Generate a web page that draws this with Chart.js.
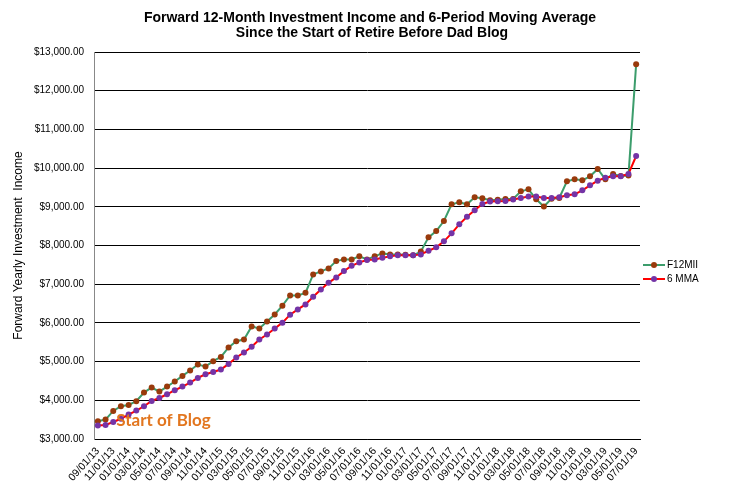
<!DOCTYPE html>
<html>
<head>
<meta charset="utf-8">
<script src="https://cdn.jsdelivr.net/npm/chart.js@4"></script>
<style>
  html, body { margin: 0; padding: 0; background: #fff; }
</style>
</head>
<body>
<canvas id="chart" width="729" height="487"></canvas>
<script>
// monthly data points, one per month since the blog started
const months = [
  '09/01/13', '10/01/13', '11/01/13', '12/01/13',
  '01/01/14', '02/01/14', '03/01/14', '04/01/14', '05/01/14', '06/01/14',
  '07/01/14', '08/01/14', '09/01/14', '10/01/14', '11/01/14', '12/01/14',
  '01/01/15', '02/01/15', '03/01/15', '04/01/15', '05/01/15', '06/01/15',
  '07/01/15', '08/01/15', '09/01/15', '10/01/15', '11/01/15', '12/01/15',
  '01/01/16', '02/01/16', '03/01/16', '04/01/16', '05/01/16', '06/01/16',
  '07/01/16', '08/01/16', '09/01/16', '10/01/16', '11/01/16', '12/01/16',
  '01/01/17', '02/01/17', '03/01/17', '04/01/17', '05/01/17', '06/01/17',
  '07/01/17', '08/01/17', '09/01/17', '10/01/17', '11/01/17', '12/01/17',
  '01/01/18', '02/01/18', '03/01/18', '04/01/18', '05/01/18', '06/01/18',
  '07/01/18', '08/01/18', '09/01/18', '10/01/18', '11/01/18', '12/01/18',
  '01/01/19', '02/01/19', '03/01/19', '04/01/19', '05/01/19', '06/01/19',
  '07/01/19'
];

// Forward 12-month investment income
const f12mii = [
  3458, 3502, 3725, 3846, 3880, 3975, 4200, 4330, 4226, 4355,
  4485, 4630, 4770, 4925, 4873, 5010, 5121, 5365, 5527, 5571,
  5908, 5856, 6037, 6218, 6446, 6710, 6710, 6777, 7253, 7331,
  7408, 7597, 7641, 7641, 7719, 7641, 7719, 7796, 7770, 7770,
  7760, 7745, 7843, 8210, 8373, 8632, 9064, 9116, 9064, 9245,
  9219, 9170, 9185, 9201, 9201, 9400, 9452, 9193, 9007, 9210,
  9227, 9659, 9711, 9685, 9788, 9977, 9711, 9848, 9796, 9809,
  12686
];

// 6-period moving average
const mma6 = [
  3347, 3362, 3440, 3523, 3631, 3735, 3846, 3983, 4060, 4156,
  4260, 4355, 4459, 4578, 4673, 4733, 4795, 4940, 5106, 5235,
  5385, 5571, 5701, 5856, 6006, 6213, 6348, 6477, 6674, 6865,
  7036, 7175, 7338, 7476, 7563, 7623, 7641, 7682, 7719, 7745,
  7745, 7745, 7770, 7864, 7952, 8107, 8314, 8547, 8743, 8909,
  9072, 9136, 9144, 9152, 9188, 9230, 9266, 9266, 9230, 9230,
  9248, 9297, 9323, 9426, 9555, 9675, 9752, 9788, 9788, 9848,
  10313
];

const titleLines = [
  'Forward 12-Month Investment Income and 6-Period Moving Average',
  'Since the Start of Retire Before Dad Blog'
];
const seriesNames = ['F12MII', '6 MMA'];
const blogNote = { text: 'Start of Blog', index: 2.4, value: 3330 };

const FONT = '"Liberation Sans", Arial, sans-serif';

// title, legend and the "Start of Blog" note
const extras = {
  id: 'extras',
  afterDatasetsDraw(chart) {
    const ctx = chart.ctx;
    const x = chart.scales.x.getPixelForValue(blogNote.index);
    const y = chart.scales.y.getPixelForValue(blogNote.value);
    ctx.save();
    ctx.font = 'bold 17px Lato, "Open Sans", sans-serif';
    ctx.fillStyle = '#E2761F';
    ctx.textAlign = 'left';
    ctx.textBaseline = 'alphabetic';
    ctx.fillText(blogNote.text, x, y);
    ctx.restore();
  },
  afterDraw(chart) {
    const ctx = chart.ctx;
    ctx.save();
    ctx.fillStyle = '#000';
    ctx.textAlign = 'center';
    ctx.textBaseline = 'alphabetic';
    ctx.font = 'bold 14px ' + FONT;
    ctx.fillText(titleLines[0], 370, 22);
    ctx.fillText(titleLines[1], 372, 37);

    // legend
    const items = chart.data.datasets.slice().sort((a, b) => b.order - a.order);
    items.forEach((ds, i) => {
      const ly = 265 + i * 14;
      ctx.strokeStyle = ds.borderColor;
      ctx.lineWidth = 2;
      ctx.beginPath();
      ctx.moveTo(643, ly);
      ctx.lineTo(665, ly);
      ctx.stroke();
      ctx.fillStyle = ds.pointBackgroundColor;
      ctx.beginPath();
      ctx.arc(654, ly, 3, 0, Math.PI * 2);
      ctx.fill();
      ctx.fillStyle = '#000';
      ctx.font = '10px ' + FONT;
      ctx.textAlign = 'left';
      ctx.textBaseline = 'middle';
      ctx.fillText(ds.label, 667, ly);
    });
    ctx.restore();
  }
};

new Chart(document.getElementById('chart'), {
  type: 'line',
  data: {
    labels: months,
    datasets: [
      {
        label: seriesNames[0],
        data: f12mii,
        order: 1,
        borderColor: '#3C9D6C',
        borderWidth: 2,
        pointBackgroundColor: '#993A0C',
        pointBorderColor: '#993A0C',
        pointBorderWidth: 0,
        pointRadius: 3,
        tension: 0
      },
      {
        label: seriesNames[1],
        data: mma6,
        order: 0,
        borderColor: '#FF0000',
        borderWidth: 2,
        pointBackgroundColor: '#7434A6',
        pointBorderColor: '#7434A6',
        pointBorderWidth: 0,
        pointRadius: 3,
        tension: 0
      }
    ]
  },
  options: {
    responsive: false,
    animation: false,
    devicePixelRatio: 1,
    layout: { padding: { left: 0, top: 52, right: 89, bottom: 0 } },
    plugins: {
      legend: { display: false },
      tooltip: { enabled: false }
    },
    scales: {
      x: {
        offset: true,
        grid: { display: false, drawTicks: false },
        border: { display: true, color: '#000', width: 1 },
        ticks: {
          autoSkip: false,
          minRotation: 48,
          maxRotation: 48,
          padding: 6,
          color: '#000',
          font: { family: FONT, size: 10.5 },
          callback: function (val, idx) {
            return idx % 2 === 0 ? this.getLabelForValue(val) : '';
          }
        },
        afterFit: s => { s.height = 48; }
      },
      y: {
        min: 3000,
        max: 13000,
        grid: { color: '#000', lineWidth: 1, drawTicks: false },
        border: { display: true, color: '#888', width: 1 },
        ticks: {
          stepSize: 1000,
          padding: 10,
          color: '#000',
          font: { family: FONT, size: 10 },
          callback: v => '$' + v.toLocaleString('en-US', { minimumFractionDigits: 2, maximumFractionDigits: 2 })
        },
        title: {
          display: true,
          text: 'Forward Yearly Investment  Income',
          color: '#000',
          font: { family: FONT, size: 12 },
          padding: { top: 11, bottom: 0 }
        },
        afterFit: s => { s.width = 94; }
      }
    }
  },
  plugins: [extras]
});
</script>
</body>
</html>
